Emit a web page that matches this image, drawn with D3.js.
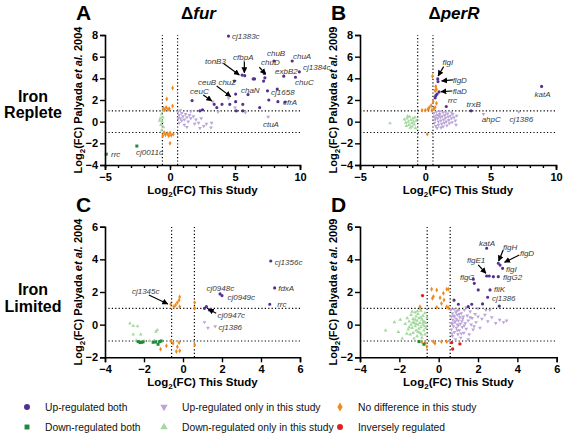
<!DOCTYPE html>
<html><head><meta charset="utf-8">
<script src="https://cdn.jsdelivr.net/npm/d3@7"></script>
<style>
body{margin:0;background:#fff;}
svg{display:block;}
svg text{font-family:"Liberation Sans",Arial,sans-serif;}
</style></head>
<body><div id="chart"></div>
<script>
// ---------------- DATA ----------------
const categories = ["Up-regulated both","Down-regulated both","Up-regulated only in this study","Down-regulated only in this study","No difference in this study","Inversely regulated"];

// Panel A (Δfur, iron replete)
const aUpBoth = [[4.5,7.9],[8.0,5.6],[9.4,5.6],[9.95,4.6],[9.65,4.1],[8.75,4.2],[7.25,4.45],[7.3,4.05],[5.55,4.3],[5.75,4.25],[6.5,3.95],[4.95,3.75],[7.5,2.85],[8.25,3.0],[5.05,2.55],[6.0,2.5],[1.7,1.95],[3.4,1.6],[4.0,1.6],[4.6,1.6],[5.05,1.85],[5.6,1.6],[7.6,2.0],[8.3,1.85],[8.85,1.8],[5.1,1.0],[5.6,1.0],[6.9,1.3],[2.3,1.0],[2.5,1.1],[3.6,1.3],[6.4,3.95],[7.2,3.75]];
const aDownBoth = [[-4.9,-3.0],[-2.55,-2.25]];
const aUpOnly = [[0.6,0.9],[0.7,0.6],[0.8,0.3],[0.9,0.8],[1.0,0.5],[1.1,0.2],[1.2,0.7],[1.3,0.4],[1.4,0.0],[1.5,0.6],[0.7,-0.1],[0.9,0.1],[1.1,-0.3],[1.6,0.3],[1.8,0.5],[2.0,0.2],[2.2,-0.1],[2.4,0.3],[2.6,-0.4],[1.3,-0.5],[0.65,0.3],[1.9,-0.2],[2.8,-0.2],[3.2,-0.1],[3.15,-0.55],[2.3,-0.6],[4.5,2.15],[3.3,1.85],[5.8,0.85],[7.55,0.45],[5.0,1.3],[3.7,0.9],[1.6,0.95],[0.8,1.05]];
const aDownOnly = [[-0.5,1.0],[-0.65,0.7],[-0.55,0.4],[-0.75,0.3],[-0.6,0.0],[-0.7,-0.3],[-0.5,-0.5],[-0.65,-0.8],[-0.8,0.1]];
const aNoDiff = [[0.2,3.1],[-0.25,2.1],[0.2,1.45],[-0.5,1.25],[-0.4,1.1],[-0.3,1.3],[-0.15,1.15],[-0.05,1.2],[-0.45,-1.0],[-0.35,-1.2],[-0.2,-1.1],[-0.1,-1.3],[0.0,-1.05],[0.1,-1.25],[0.25,-1.15],[-0.55,-1.3],[0.0,-2.0]];
const aInverse = [];
const aLabels = [["cj1383c",4.77,7.59],["chuB",7.46,6.07],["chuA",9.46,5.82],["cj1384c",10.23,4.8],["chuC",9.62,3.39],["exbB2",8.08,4.4],["cj1658",7.77,2.49],["cfrA",8.69,1.5],["ctuA",7.15,-0.49],["chaN",5.46,2.65],["chuD",7.0,5.2],["cfbpA",4.85,5.67],["tonB3",2.69,5.36],["ceuB chuZ",2.15,3.39],["ceuC",1.54,2.59],["rrc",-4.54,-3.29],["cj0011c",-2.62,-3.05]];
const aArrows = [[6.87,5.02,7.36,4.4],[5.72,5.54,5.72,4.52],[4.1,5.39,5.33,4.31],[3.59,3.3,4.67,2.31],[2.56,2.47,3.21,1.91]];

// Panel B (ΔperR, iron replete)
const bUpBoth = [[0.95,3.95],[0.97,3.7],[1.05,2.75],[0.8,2.4],[0.75,2.2],[0.9,2.55],[1.6,1.4],[3.5,1.0],[8.9,3.25]];
const bDownBoth = [];
const bUpOnly = [[0.65,0.8],[0.7,0.5],[0.75,0.2],[0.7,-0.1],[0.8,-0.4],[0.85,0.9],[0.9,0.6],[0.95,0.3],[1.0,0.0],[1.0,-0.3],[1.1,0.7],[1.15,0.4],[1.2,0.1],[1.25,-0.2],[1.3,0.5],[1.35,0.85],[1.4,0.2],[1.45,-0.1],[1.5,0.6],[1.55,0.35],[1.6,0.0],[1.65,-0.35],[1.7,0.75],[1.75,0.45],[1.8,0.15],[1.85,-0.15],[1.9,0.55],[2.0,0.3],[2.05,-0.05],[2.1,0.7],[2.2,0.4],[2.3,0.1],[2.35,-0.3],[2.4,0.55],[1.2,-0.55],[0.9,-0.6],[1.55,0.9],[0.8,0.35],[1.05,0.55],[1.35,-0.45],[4.45,0.7],[7.15,0.9],[2.0,0.85],[1.1,0.95]];
const bDownOnly = [[-2.7,-0.15],[-1.6,0.2],[-1.5,-0.1],[-1.4,0.3],[-1.3,0.0],[-1.25,-0.3],[-1.2,0.45],[-1.1,0.15],[-1.05,-0.15],[-1.0,-0.45],[-0.95,0.3],[-0.9,0.0],[-0.85,-0.25],[-0.8,0.4],[-0.75,-0.6],[-1.15,-0.55],[-1.45,-0.4],[-0.7,0.1],[-1.35,0.5]];
const bNoDiff = [[0.55,4.2],[0.8,3.25],[0.85,3.0],[0.75,2.85],[0.6,1.85],[0.85,1.7],[0.45,1.5],[0.3,1.3],[0.65,1.2],[0.5,1.05],[0.0,1.05],[-0.25,1.05],[0.2,1.15],[0.75,1.3],[0.15,-1.15]];
const bInverse = [];
const bLabels = [["flgI",1.32,5.2],["flgD",2.09,3.57],["flaD",2.09,2.56],["rrc",1.71,1.73],["trxB",3.16,1.33],["ahpC",4.31,-0.03],["cj1386",6.45,-0.03],["katA",8.36,2.25]];
const bArrows = [[1.4,5.08,0.98,4.22],[2.11,3.85,1.25,3.76],[2.07,2.83,1.2,2.77]];

// Panel C (Δfur, iron limited)
const cUpBoth = [[4.5,3.9],[4.7,2.25],[4.45,1.25],[1.9,1.88],[2.0,1.78],[1.2,1.1],[1.1,1.0],[1.35,0.9]];
const cDownBoth = [[-2.3,-1.04],[-2.2,-1.1],[-2.13,-1.08],[-2.05,-1.06],[-1.53,-1.08],[-1.4,-1.06],[-1.28,-1.2],[-1.2,-1.04],[-1.12,-1.0]];
const cUpOnly = [[1.1,0.15],[1.28,-0.2],[1.65,-0.1]];
const cDownOnly = [[-2.72,0.08],[-2.55,-0.08],[-2.33,-0.1],[-2.55,-0.6],[-2.17,-0.6],[-1.39,-0.43],[-1.32,-0.33],[-2.4,-0.96],[-2.0,-1.0],[-1.73,-1.0],[-1.47,-0.96]];
const cNoDiff = [[-0.63,1.25],[-0.47,1.1],[-0.38,1.2],[-0.29,1.35],[-0.17,1.7],[-0.2,1.5],[-0.17,1.1],[0.6,1.35],[0.6,1.0],[-0.61,-1.0],[-0.51,-1.14],[-0.2,-1.1],[-0.29,-1.35],[-0.17,-1.6],[-0.34,-1.65],[-0.85,-1.3],[-1.15,-1.5],[0.6,-1.25]];
const cInverse = [];
const cLabels = [["cj1345c",-2.62,1.9],["cj0948c",1.21,2.05],["cj0949c",2.28,1.53],["cj0947c",1.77,0.41],["cj1386",1.82,-0.31],["cj1356c",4.71,3.67],["fdxA",4.88,2.08],["rrc",4.83,1.08]];
const cArrows = [[-1.75,1.82,-0.78,1.27],[1.7,0.7,1.3,0.96]];

// Panel D (ΔperR, iron limited)
const dUpBoth = [[2.44,4.68],[3.03,3.76],[3.12,3.65],[3.25,3.45],[2.44,2.98],[2.57,2.98],[2.78,2.94],[3.03,2.94],[1.76,2.78],[1.81,2.53],[2.61,2.13],[2.49,1.68],[2.01,2.13],[2.23,1.27],[3.08,1.14],[1.0,1.25],[1.68,1.25],[1.5,1.1],[0.78,1.5]];
const dDownBoth = [[-1.0,-1.04],[-0.75,-1.2]];
const dUpOnly = [[0.62,0.9],[0.65,0.5],[0.65,0.1],[0.65,-0.3],[0.7,0.7],[0.7,-0.7],[0.72,0.3],[0.75,-0.1],[0.78,0.95],[0.8,0.5],[0.8,-0.45],[0.82,0.15],[0.85,-0.9],[0.88,0.75],[0.9,0.35],[0.9,-0.2],[0.95,0.0],[0.95,0.6],[0.98,-0.6],[1.0,0.25],[1.02,0.9],[1.05,-0.35],[1.08,0.45],[1.1,0.05],[1.12,-0.8],[1.15,0.7],[1.18,0.2],[1.2,-0.15],[1.25,0.5],[1.28,-0.5],[1.3,0.9],[1.35,0.1],[1.4,-0.25],[1.45,0.55],[1.5,0.25],[1.55,-0.6],[1.6,0.8],[1.65,0.0],[1.7,0.4],[1.75,-0.3],[1.85,0.65],[1.9,0.15],[2.0,0.5],[2.1,-0.2],[2.2,0.35],[2.35,0.6],[2.5,0.2],[2.7,0.45],[2.9,0.1],[3.1,0.3],[3.3,0.15],[3.45,0.25],[2.0,1.0],[1.4,1.05],[2.6,0.9],[0.68,-0.55],[0.92,0.85],[1.15,-0.55],[0.75,0.55],[1.0,-0.05],[0.85,0.2],[1.22,0.35],[0.7,0.05],[1.05,0.65],[1.3,-0.05],[0.95,-0.35],[1.6,0.45],[1.8,-0.1],[2.4,0.9],[1.5,-0.9]];
const dDownOnly = [[-2.7,-0.35],[-2.25,0.15],[-1.95,0.3],[-1.85,-0.85],[-2.05,-0.45],[-1.7,0.05],[-1.6,0.4],[-1.55,-0.3],[-1.5,0.2],[-1.45,-0.6],[-1.4,0.6],[-1.4,0.0],[-1.35,-0.2],[-1.3,0.35],[-1.3,-0.5],[-1.25,0.1],[-1.2,0.75],[-1.2,-0.1],[-1.15,0.5],[-1.15,-0.35],[-1.1,0.25],[-1.1,-0.7],[-1.05,0.0],[-1.05,0.65],[-1.0,-0.25],[-1.0,0.4],[-0.95,0.1],[-0.95,-0.5],[-0.9,0.85],[-0.9,-0.15],[-0.85,0.3],[-0.85,-0.8],[-0.8,0.55],[-0.8,0.0],[-0.75,-0.35],[-0.75,0.2],[-0.7,0.7],[-0.7,-0.6],[-0.65,0.1],[-0.65,-0.2],[-0.6,0.45],[-1.25,-0.85],[-0.95,0.95],[-1.35,0.8],[-1.5,-0.15],[-1.15,0.05],[-0.9,0.45],[-1.05,-0.45],[-0.78,0.15],[-1.2,0.3],[-0.88,-0.6],[-1.62,-0.55],[-1.3,0.15],[-0.72,-0.1],[-1.08,0.82]];
const dNoDiff = [[-0.36,2.17],[-0.27,1.72],[-0.1,2.12],[0.07,1.65],[0.24,1.92],[0.41,2.17],[0.49,2.17],[0.27,1.51],[0.14,1.3],[0.41,1.1],[0.49,1.04],[-0.1,1.06],[-0.32,1.61],[-0.95,1.1],[-0.86,-1.04],[-0.69,-1.1],[-0.27,-1.04],[-0.19,-1.14],[0.14,-1.04],[0.41,-1.04],[-0.6,-1.35]];
const dInverse = [[-0.82,1.78],[0.66,-1.1],[0.71,-1.49],[1.08,-1.18]];
const dLabels = [["katA",2.05,4.84],["flgH",3.27,4.59],["flgD",4.13,4.19],["flgE1",1.44,3.78],["flgI",3.42,3.23],["flgG2",3.27,2.72],["flgG",1.08,2.76],["fliK",2.81,2.0],["cj1386",2.71,1.45]];
const dArrows = [[3.28,4.57,3.05,3.9],[4.1,4.27,3.35,3.82],[2.01,3.66,2.4,3.15]];

const xTicksAB = [-5,0,5,10], xMinorAB = d3.range(-5,11,1), yTicksAB = [-4,-2,0,2,4,6,8];
const xTicksCD = [-4,-2,0,2,4,6], yTicksCD = [-2,0,2,4,6];
const foldX = 0.585, foldY = 1;

// ---------------- STYLE ----------------
const colors = {upBoth:"#55308f", downBoth:"#1e8a3a", upOnly:"#bba4d8", downOnly:"#a3d99e", noDiff:"#f08a1e", inverse:"#e0201f"};
const sym = {
  upBoth: {type:d3.symbolCircle, rot:0},
  downBoth: {type:d3.symbolSquare, rot:0},
  upOnly: {type:d3.symbolTriangle, rot:180},
  downOnly: {type:d3.symbolTriangle, rot:0},
  noDiff: {type:d3.symbolDiamond, rot:0},
  inverse: {type:d3.symbolCircle, rot:0}
};
const ptSize = {upBoth:8, downBoth:9, upOnly:6, downOnly:6, noDiff:7, inverse:9};

const svg = d3.select("#chart").append("svg").attr("width",567).attr("height",434);
const defs = svg.append("defs");
defs.append("marker").attr("id","ah").attr("viewBox","0 0 10 10").attr("refX",9).attr("refY",5)
  .attr("markerWidth",6).attr("markerHeight",6).attr("orient","auto-start-reverse").attr("markerUnits","userSpaceOnUse")
  .append("path").attr("d","M0,0 L10,5 L0,10 z").attr("fill","#000");

function panel(cfg){
  const x = d3.scaleLinear().domain(cfg.xd).range([cfg.x0,cfg.x1]);
  const y = d3.scaleLinear().domain(cfg.yd).range([cfg.y0,cfg.y1]);
  const g = svg.append("g");
  const dot = g.append("g").attr("stroke","#000").attr("stroke-width",1.2).attr("stroke-dasharray","1.2,2.2").attr("fill","none");
  [-foldX,foldX].forEach(v=>dot.append("line").attr("x1",x(v)).attr("x2",x(v)).attr("y1",y(cfg.yd[0])).attr("y2",y(cfg.yd[1])));
  [-foldY,foldY].forEach(v=>dot.append("line").attr("x1",x(cfg.xd[0])).attr("x2",x(cfg.xd[1])).attr("y1",y(v)).attr("y2",y(v)));
  const series = [["upOnly",cfg.upOnly],["downOnly",cfg.downOnly],["noDiff",cfg.noDiff],["downBoth",cfg.downBoth],["upBoth",cfg.upBoth],["inverse",cfg.inverse]];
  series.forEach(([k,arr])=>{
    g.append("g").selectAll("path").data(arr).join("path")
      .attr("d",d3.symbol().type(sym[k].type).size(ptSize[k]))
      .attr("transform",d=>`translate(${x(d[0])},${y(d[1])}) rotate(${sym[k].rot})`)
      .attr("fill",colors[k]);
  });
  g.append("g").attr("transform",`translate(0,${cfg.y0})`)
    .call(d3.axisBottom(x).tickValues(cfg.xt).tickSize(5).tickPadding(3).tickFormat(d3.format("d")));
  if(cfg.xm){
    g.append("g").attr("transform",`translate(0,${cfg.y0})`)
      .call(d3.axisBottom(x).tickValues(cfg.xm).tickSize(3).tickFormat(""))
      .call(s=>s.select(".domain").remove());
  }
  g.append("g").attr("transform",`translate(${cfg.x0},0)`)
    .call(d3.axisLeft(y).tickValues(cfg.yt).tickSize(5).tickPadding(2).tickFormat(d3.format("d")));
  g.selectAll(".domain").attr("stroke","#000").attr("stroke-width",1.6);
  g.selectAll(".tick line").attr("stroke","#000").attr("stroke-width",1.4);
  g.selectAll(".tick text").attr("font-weight","bold").attr("font-size",11).attr("fill","#000");
  g.append("g").selectAll("line").data(cfg.arrows).join("line")
    .attr("x1",d=>x(d[0])).attr("y1",d=>y(d[1])).attr("x2",d=>x(d[2])).attr("y2",d=>y(d[3]))
    .attr("stroke","#000").attr("stroke-width",1.2).attr("marker-end","url(#ah)");
  g.append("g").selectAll("text").data(cfg.labels).join("text")
    .attr("x",d=>x(d[1])).attr("y",d=>y(d[2])).text(d=>d[0])
    .attr("font-size",8).attr("font-style","italic").attr("fill","#3a3a3a");
  const cx = (cfg.x0+cfg.x1)/2, cy = (cfg.y0+cfg.y1)/2;
  const xt = g.append("text").attr("x",cx).attr("y",cfg.y0+29).attr("text-anchor","middle").attr("font-weight","bold").attr("font-size",11.5);
  xt.append("tspan").text("Log");
  xt.append("tspan").text("2").attr("font-size",8).attr("dy",3);
  xt.append("tspan").text("(FC)  This Study").attr("dy",-3);
  const yt = g.append("text").attr("transform",`translate(${cfg.x0-23},${cy}) rotate(-90)`).attr("text-anchor","middle").attr("font-weight","bold").attr("font-size",11);
  yt.append("tspan").text("Log");
  yt.append("tspan").text("2").attr("font-size",8).attr("dy",3);
  yt.append("tspan").text("(FC) Palyada ").attr("dy",-3);
  yt.append("tspan").text("et al.").attr("font-style","italic");
  yt.append("tspan").text(" "+cfg.year);
  g.append("text").attr("x",cfg.x0-29).attr("y",cfg.y1-15).text(cfg.letter).attr("font-weight","bold").attr("font-size",21);
  if(cfg.title){
    const t = g.append("text").attr("x",cx-4).attr("y",cfg.y1-16).attr("text-anchor","middle").attr("font-weight","bold").attr("font-size",17);
    t.append("tspan").text("\u0394");
    t.append("tspan").text(cfg.title).attr("font-style","italic");
  }
}

panel({letter:"A",title:"fur",year:"2004",x0:105,x1:300,y0:165,y1:35,xd:[-5,10],yd:[-4,8],xt:xTicksAB,xm:xMinorAB,yt:yTicksAB,
  upBoth:aUpBoth,downBoth:aDownBoth,upOnly:aUpOnly,downOnly:aDownOnly,noDiff:aNoDiff,inverse:aInverse,labels:aLabels,arrows:aArrows});
panel({letter:"B",title:"perR",year:"2009",x0:360,x1:556,y0:165,y1:35,xd:[-5,10],yd:[-4,8],xt:xTicksAB,xm:xMinorAB,yt:yTicksAB,
  upBoth:bUpBoth,downBoth:bDownBoth,upOnly:bUpOnly,downOnly:bDownOnly,noDiff:bNoDiff,inverse:bInverse,labels:bLabels,arrows:bArrows});
panel({letter:"C",title:null,year:"2004",x0:105,x1:300,y0:357.3,y1:226.7,xd:[-4,6],yd:[-2,6],xt:xTicksCD,xm:null,yt:yTicksCD,
  upBoth:cUpBoth,downBoth:cDownBoth,upOnly:cUpOnly,downOnly:cDownOnly,noDiff:cNoDiff,inverse:cInverse,labels:cLabels,arrows:cArrows});
panel({letter:"D",title:null,year:"2009",x0:360,x1:556.7,y0:357.3,y1:226.7,xd:[-4,6],yd:[-2,6],xt:xTicksCD,xm:null,yt:yTicksCD,
  upBoth:dUpBoth,downBoth:dDownBoth,upOnly:dUpOnly,downOnly:dDownOnly,noDiff:dNoDiff,inverse:dInverse,labels:dLabels,arrows:dArrows});

[["Iron","Replete",102,118],["Iron","Limited",295,312]].forEach(([a,b,y1,y2])=>{
  svg.append("text").attr("x",33).attr("y",y1).attr("text-anchor","middle").attr("font-weight","bold").attr("font-size",16).text(a);
  svg.append("text").attr("x",33).attr("y",y2).attr("text-anchor","middle").attr("font-weight","bold").attr("font-size",16).text(b);
});

const legKeys = ["upBoth","downBoth","upOnly","downOnly","noDiff","inverse"];
const legPos = [[27,407],[27,427],[164,407],[164,427],[340,407],[340,427]];
legKeys.forEach((k,i)=>{
  const [lx,ly] = legPos[i];
  svg.append("path").attr("d",d3.symbol().type(sym[k].type).size(k==="upBoth"||k==="inverse"?28:24))
    .attr("transform",`translate(${lx},${ly}) rotate(${sym[k].rot})`).attr("fill",colors[k]);
  svg.append("text").attr("x",lx+18).attr("y",ly+4).attr("font-size",10.3).attr("fill","#111").text(categories[i]);
});
</script></body></html>
